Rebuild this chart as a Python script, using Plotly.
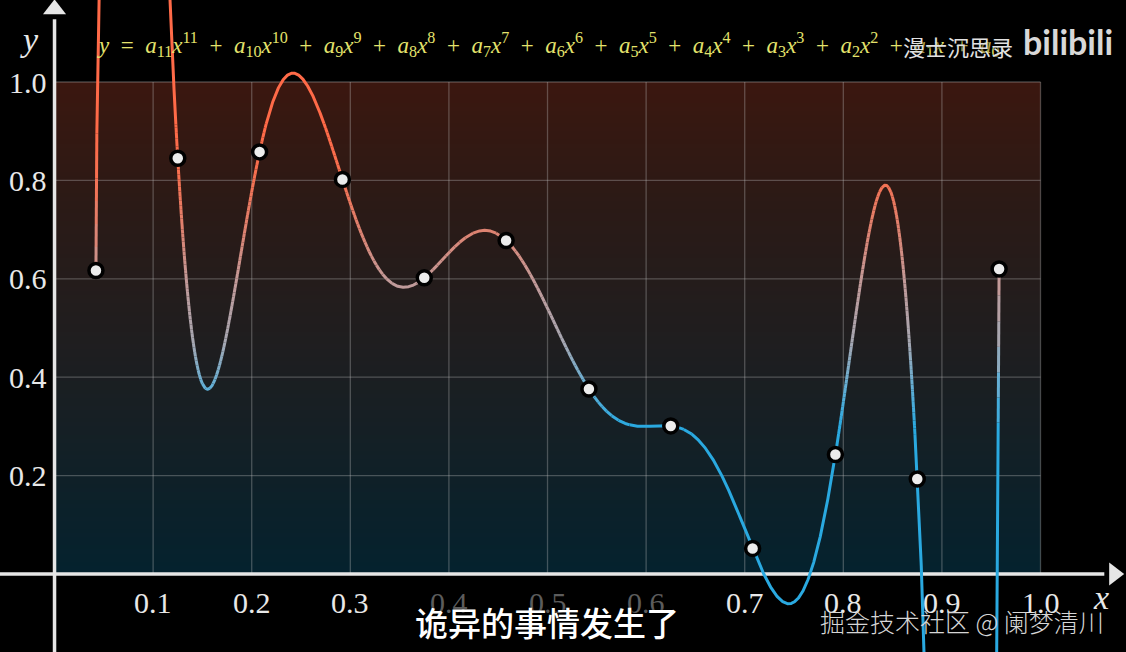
import numpy as np
import plotly.graph_objects as go
from numpy.polynomial import Polynomial

# ---------------- data ----------------
x_points = [0.042, 0.125, 0.208, 0.292, 0.375, 0.458, 0.542, 0.625, 0.708, 0.792, 0.875, 0.958]
y_points = [0.617, 0.845, 0.858, 0.802, 0.602, 0.678, 0.376, 0.301, 0.052, 0.243, 0.193, 0.620]
x_ticks = [0.1, 0.2, 0.3, 0.4, 0.5, 0.6, 0.7, 0.8, 0.9, 1.0]
x_tick_labels = ["0.1", "0.2", "0.3", "0.4", "0.5", "0.6", "0.7", "0.8", "0.9", "1.0"]
y_ticks = [0.2, 0.4, 0.6, 0.8, 1.0]
y_tick_labels = ["0.2", "0.4", "0.6", "0.8", "1.0"]
faded_x_labels = ["0.4", "0.5", "0.6"]

formula_degree = 11
subtitle = "诡异的事情发生了"
credit = "掘金技术社区 @ 阑梦清川"
channel = "漫士沉思录"
site = "bilibili"

# ---------------- view ----------------
W, H = 1126, 652
X_RANGE = [-0.0553, 1.0867]
Y_RANGE = [-0.1585, 1.1667]

def hex2rgb(h):
    h = h.lstrip("#")
    return np.array([int(h[i:i + 2], 16) for i in (0, 2, 4)], dtype=float)

# colour of the curve as a function of y
curve_stops = [(0.30, "#2aa9e0"), (0.38, "#62afd6"), (0.47, "#a6a8b2"),
               (0.60, "#c49a98"), (0.70, "#de8270"), (0.80, "#f57152"), (0.90, "#ff6a48")]

def curve_color(v):
    ys_ = [s[0] for s in curve_stops]
    cols = [hex2rgb(s[1]) for s in curve_stops]
    if v <= ys_[0]:
        c = cols[0]
    elif v >= ys_[-1]:
        c = cols[-1]
    else:
        j = np.searchsorted(ys_, v) - 1
        t = (v - ys_[j]) / (ys_[j + 1] - ys_[j])
        c = cols[j] * (1 - t) + cols[j + 1] * t
    return "rgb(%d,%d,%d)" % tuple(np.round(c).astype(int))

fig = go.Figure()

# gradient background rectangle (0..1 x 0..1)
n_rows = 120
edges = np.linspace(0, 1, n_rows + 1)
centers = (edges[:-1] + edges[1:]) / 2
fig.add_trace(go.Heatmap(
    z=[[c] for c in centers], x=[0, 1], y=edges,
    colorscale=[[0, "#04222e"], [0.45, "#1e1e20"], [0.75, "#2b1a16"], [1, "#3b170f"]],
    zmin=0, zmax=1, showscale=False, hoverinfo="skip"))

# grid lines
gx, gy = [], []
for t in x_ticks:
    gx += [t, t, None]
    gy += [0, 1, None]
for t in y_ticks:
    gx += [0, 1, None]
    gy += [t, t, None]
fig.add_trace(go.Scatter(x=gx, y=gy, mode="lines", hoverinfo="skip",
                         line=dict(color="rgba(190,190,190,0.33)", width=1.3)))

# axes with arrows
axis_col = "#e6e6e6"
x_arrow = X_RANGE[1] - 0.012
y_arrow = Y_RANGE[1] - 0.019
fig.add_trace(go.Scatter(x=[X_RANGE[0], x_arrow - 0.01, None, 0, 0], y=[0, 0, None, Y_RANGE[0], y_arrow - 0.02],
                         mode="lines", hoverinfo="skip", line=dict(color=axis_col, width=3.5)))
fig.add_trace(go.Scatter(x=[x_arrow], y=[0], mode="markers", hoverinfo="skip",
                         marker=dict(symbol="triangle-right", size=20, color=axis_col)))
fig.add_trace(go.Scatter(x=[0], y=[y_arrow], mode="markers", hoverinfo="skip",
                         marker=dict(symbol="triangle-up", size=20, color=axis_col)))

# interpolating polynomial through the points, coloured by height
poly = Polynomial.fit(x_points, y_points, formula_degree)
xs = np.linspace(x_points[0], x_points[-1], 6000)
ys = poly(xs)
mid = (ys[:-1] + ys[1:]) / 2
nb = 70
lo, hi = 0.28, 0.92
bins = np.round(np.clip((mid - lo) / (hi - lo), 0, 1) * (nb - 1)).astype(int)
runs = {}
i = 0
nseg = len(mid)
while i < nseg:
    j = i
    while j + 1 < nseg and bins[j + 1] == bins[i]:
        j += 1
    b = bins[i]
    rx, ry = runs.setdefault(b, ([], []))
    rx += list(xs[i:j + 2]) + [None]
    ry += list(ys[i:j + 2]) + [None]
    i = j + 1
for b, (rx, ry) in sorted(runs.items()):
    v = lo + (hi - lo) * b / (nb - 1)
    fig.add_trace(go.Scatter(x=rx, y=ry, mode="lines", hoverinfo="skip",
                             line=dict(color=curve_color(v), width=3)))

# data points
fig.add_trace(go.Scatter(x=x_points, y=y_points, mode="markers", hoverinfo="skip",
                         marker=dict(size=14, color="#ececec", line=dict(color="black", width=3.5))))

# ---------------- text ----------------
serif = "Liberation Serif, DejaVu Serif, serif"
ann = []
for t, lab in zip(x_ticks, x_tick_labels):
    ann.append(dict(x=t, y=0, xref="x", yref="y", text=lab, showarrow=False, yshift=-28,
                    xanchor="center", yanchor="middle",
                    font=dict(family=serif, size=30,
                              color="#5c5c5c" if lab in faded_x_labels else "#e8e8e8")))
for t, lab in zip(y_ticks, y_tick_labels):
    ann.append(dict(x=0, y=t, xref="x", yref="y", text=lab, showarrow=False, xshift=-6,
                    xanchor="right", yanchor="middle",
                    font=dict(family=serif, size=30, color="#e8e8e8")))
ann.append(dict(x=30 / W, y=1 - 40 / H, xref="paper", yref="paper", text="<i>y</i>", showarrow=False,
                xanchor="center", yanchor="middle", font=dict(family=serif, size=34, color="#e8e8e8")))
ann.append(dict(x=1101 / W, y=1 - 597 / H, xref="paper", yref="paper", text="<i>x</i>", showarrow=False,
                xanchor="center", yanchor="middle", font=dict(family=serif, size=34, color="#e8e8e8")))

terms = []
for k in range(formula_degree, 1, -1):
    terms.append("<i>a</i><sub>%d</sub><i>x</i><sup>%d</sup>" % (k, k))
terms.append("<i>a</i><sub>1</sub><i>x</i>")
terms.append("<i>a</i><sub>0</sub>")
formula = "<i>y</i>&#160;&#160;=&#160;&#160;" + "&#160;&#160;+&#160;&#160;".join(terms)
ann.append(dict(x=95 / W, y=1 - 44 / H, xref="paper", yref="paper", text=formula, showarrow=False,
                xanchor="left", yanchor="middle", font=dict(family=serif, size=23, color="#e4e36c")))

ann.append(dict(x=958 / W, y=1 - 46 / H, xref="paper", yref="paper", text=channel, showarrow=False,
                xanchor="center", yanchor="middle",
                font=dict(family="Noto Sans CJK SC", size=22, color="#e2e2e2", shadow="1px 1px 3px #000")))
ann.append(dict(x=1068 / W, y=1 - 42 / H, xref="paper", yref="paper", text="<b>%s</b>" % site, showarrow=False,
                xanchor="center", yanchor="middle",
                font=dict(family="Lato, Roboto, sans-serif", size=34, color="#d8d8d8")))
ann.append(dict(x=547 / W, y=1 - 622 / H, xref="paper", yref="paper", text=subtitle, showarrow=False,
                xanchor="center", yanchor="middle",
                font=dict(family="Noto Sans CJK SC", size=33, color="#ffffff", weight=500,
                          shadow="1px 1px 3px #000")))
ann.append(dict(x=962 / W, y=1 - 621 / H, xref="paper", yref="paper", text=credit, showarrow=False,
                xanchor="center", yanchor="middle",
                font=dict(family="Noto Sans CJK SC", size=25, color="#d6d6d6", weight=300)))

fig.update_layout(
    width=W, height=H, margin=dict(l=0, r=0, t=0, b=0),
    paper_bgcolor="black", plot_bgcolor="black", showlegend=False,
    xaxis=dict(range=X_RANGE, visible=False, fixedrange=True),
    yaxis=dict(range=Y_RANGE, visible=False, fixedrange=True),
    annotations=ann,
)
fig.write_html("out.html", config={"displayModeBar": False},
               post_script="document.body.style.margin='0';document.body.style.background='black';")
